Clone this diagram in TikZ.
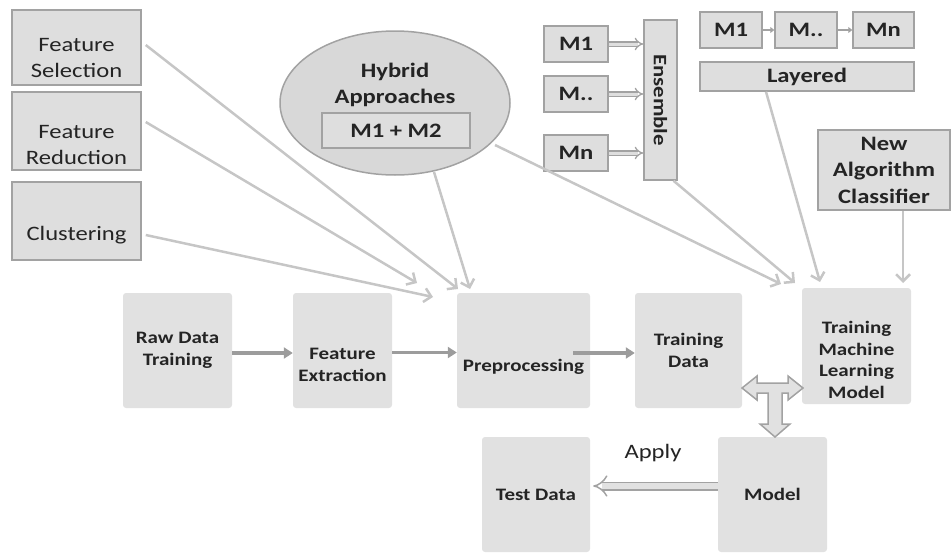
\documentclass[tikz,border=0pt]{standalone}
\usepackage{fontspec}
\setmainfont{Carlito}[FakeStretch=1.2]
\usetikzlibrary{arrows.meta,shapes.geometric}

\definecolor{boxfill}{HTML}{DEDEDE}
\definecolor{boxline}{HTML}{A2A2A2}
\definecolor{ovalfill}{HTML}{D8D8D8}
\definecolor{mainfill}{HTML}{E1E1E1}
\definecolor{feedline}{HTML}{C6C6C6}
\definecolor{flowline}{HTML}{9C9C9C}
\definecolor{ink}{HTML}{242424}

\tikzset{
  reg/.style={font=\fontsize{20.5}{26}\selectfont, text=ink, align=center, inner sep=0pt},
  hd/.style={font=\bfseries\fontsize{20.5}{26.5}\selectfont, text=ink, align=center, inner sep=0pt},
  sm/.style={font=\bfseries\fontsize{17.5}{21.5}\selectfont, text=ink, align=center, inner sep=0pt},
  topbox/.style={draw=boxline, fill=boxfill, line width=1.5pt, inner sep=0pt},
  mainbox/.style={fill=mainfill, rounded corners=3pt, inner sep=0pt},
  feed/.style={draw=feedline, line width=2.5pt, -{Straight Barb[length=7pt,width=14pt]}},
  flow/.style={draw=flowline, line width=3.5pt, -{Triangle[length=9pt,width=11pt]}},
  ensarrow/.style={draw=boxline, line width=1.3pt, double=boxfill, double distance=3pt, -{Implies}},
  chain/.style={draw=boxline, line width=2pt, -{Triangle[length=4pt,width=6pt]}},
  hollow/.style={draw=boxline, fill=mainfill, line width=1.5pt, line join=miter},
  applyarrow/.style={draw=boxline, line width=1.5pt, double=mainfill, double distance=6pt, -{Implies}}
}

\begin{document}
\begin{tikzpicture}[x=1pt,y=-1pt]
\useasboundingbox (0,0) rectangle (952,554);

% left column of techniques
\node[topbox, minimum width=129pt, minimum height=75pt] (fs) at (76.5,47.5) {};
\node[reg] (fst) at (76.5,58) {Feature\\Selection};
\node[topbox, minimum width=129pt, minimum height=78pt] (fr) at (76.5,131) {};
\node[reg] (frt) at (76.5,144.5) {Feature\\Reduction};
\node[topbox, minimum width=129pt, minimum height=78pt] (cl) at (76.5,221) {};
\node[reg] (clt) at (76.5,235.5) {Clustering};

% hybrid approaches
\node[ellipse, draw=boxline, fill=ovalfill, line width=1.5pt, minimum width=230pt, minimum height=144pt, inner sep=0pt] (hyb) at (395,103) {};
\node[hd] (hybt) at (395,85) {Hybrid\\Approaches};
\node[topbox, hd, minimum width=148pt, minimum height=35pt] (m12) at (396,130.5) {M1 + M2};

% ensemble
\node[topbox, hd, minimum width=64pt, minimum height=36pt] (e1) at (576,44) {M1};
\node[topbox, hd, minimum width=64pt, minimum height=36pt] (e2) at (576,94) {M..};
\node[topbox, hd, minimum width=64pt, minimum height=36pt] (e3) at (576,153) {Mn};
\node[topbox, minimum width=33pt, minimum height=160pt] (ens) at (660.5,100) {};
\node[font=\bfseries\fontsize{19}{22}\selectfont, text=ink, rotate=-90, inner sep=0pt] (enst) at (660.5,100) {Ensemble};
\foreach \m in {e1,e2,e3} \draw[ensarrow] (\m.east) -- (\m.east -| ens.west);

% layered
\node[topbox, hd, minimum width=62pt, minimum height=36pt] (l1) at (731,30) {M1};
\node[topbox, hd, minimum width=62pt, minimum height=36pt] (l2) at (806,30) {M..};
\node[topbox, hd, minimum width=61pt, minimum height=36pt] (l3) at (883.5,30) {Mn};
\node[topbox, hd, minimum width=214pt, minimum height=29pt] (lay) at (807,76.5) {Layered};
\draw[chain] (l1.east) -- (l2.west);
\draw[chain] (l2.east) -- (l3.west);

% new algorithm
\node[topbox, hd, minimum width=132pt, minimum height=80pt] (nac) at (884,170) {New\\Algorithm\\Classifier};

% main pipeline
\node[mainbox, sm, minimum width=109pt, minimum height=115pt] (raw) at (177.5,350.5) {Raw Data\\Training};
\node[mainbox, minimum width=99pt, minimum height=115pt] (fe) at (342.5,350.5) {};
\node[sm] (fet) at (342.5,365) {Feature\\Extraction};
\node[mainbox, minimum width=133pt, minimum height=115pt] (pre) at (523.5,350.5) {};
\node[sm] (pret) at (523.5,367) {Preprocessing};
\node[mainbox, sm, minimum width=107pt, minimum height=115pt] (td) at (688.5,350.5) {Training\\Data};
\node[mainbox, minimum width=109pt, minimum height=116pt] (tml) at (856.5,346) {};
\node[sm] (tmlt) at (856.5,360) {Training\\Machine\\Learning\\Model};
\node[mainbox, sm, minimum width=109pt, minimum height=115pt] (model) at (772.5,494.5) {Model};
\node[mainbox, sm, minimum width=108pt, minimum height=115pt] (test) at (536,494.5) {Test Data};

\draw[flow] ([yshift=-2.5pt]raw.east) -- ([yshift=-2.5pt]fe.west);
\draw[flow] ([yshift=-2pt]fe.east) -- ([yshift=-2pt]pre.west);
\draw[flow] ([shift={(-17pt,-2.5pt)}]pre.east) -- ([yshift=-2.5pt]td.west);

% feeds into preprocessing
\coordinate (pFS) at (458,289);
\coordinate (pFR) at (417,283);
\coordinate (pCL) at (433,297);
\coordinate (pHY) at (470,289);
\draw[feed] ([shift={(4pt,2.5pt)}]fs.east) -- (pFS);
\draw[feed] ([shift={(4pt,9pt)}]fr.east) -- (pFR);
\draw[feed] ([shift={(4pt,-14pt)}]cl.east) -- (pCL);
\draw[feed] (434,172) -- (pHY);

% feeds into model training
\coordinate (tHY) at (781,284);
\coordinate (tEN) at (795,283);
\coordinate (tLA) at (820,282);
\coordinate (tNA) at (903,283);
\draw[feed] (495,145) -- (tHY);
\draw[feed] ([xshift=13pt]ens.south) -- (tEN);
\draw[feed] ([xshift=-41pt]lay.south) -- (tLA);
\draw[feed] ([xshift=19pt]nac.south) -- (tNA);

% two-way / down arrow between training data, training model and model
\draw[hollow] (742,388) -- (757,376) -- (757,383) -- (788,383) -- (788,376) -- (803,388)
  -- (788,400) -- (788,393) -- (782,393) -- (782,424) -- (790,424) -- (775,437)
  -- (760,424) -- (768,424) -- (768,393) -- (757,393) -- (757,400) -- cycle;

% apply the model to the test data
\draw[applyarrow] ([yshift=8.5pt]model.west) -- ([shift={(3pt,8.5pt)}]test.east);
\node[reg] (apply) at (653,453) {Apply};

\end{tikzpicture}
\end{document}
